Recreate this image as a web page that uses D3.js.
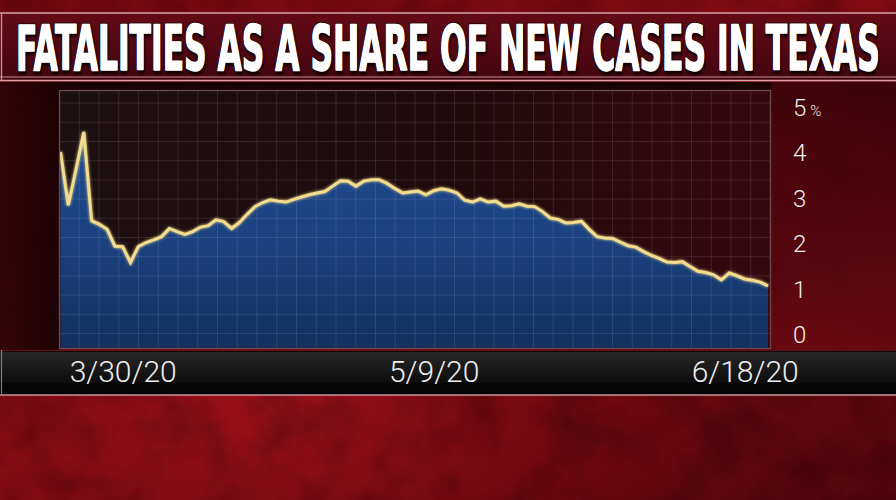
<!DOCTYPE html>
<html><head><meta charset="utf-8">
<script src="https://cdn.jsdelivr.net/npm/d3@7"></script>
<style>html,body{margin:0;padding:0;background:#000;overflow:hidden}</style>
</head><body>
<svg id="c" width="896" height="500"></svg>
<script>
// ---------- data ----------
const titleText = "FATALITIES AS A SHARE OF NEW CASES IN TEXAS";
const startDate = "2020-03-22";
const shareValues = [
  4.00, 2.83, 3.62, 4.44, 2.49, 2.41, 2.30, 1.93, 1.92, 1.57,
  1.92, 2.01, 2.07, 2.14, 2.32, 2.25, 2.19, 2.25, 2.35, 2.38,
  2.51, 2.47, 2.32, 2.45, 2.63, 2.80, 2.89, 2.95, 2.92, 2.90,
  2.96, 3.01, 3.06, 3.10, 3.13, 3.25, 3.37, 3.36, 3.25, 3.36,
  3.39, 3.39, 3.31, 3.20, 3.10, 3.12, 3.14, 3.06, 3.15, 3.19,
  3.16, 3.10, 2.94, 2.90, 2.97, 2.90, 2.92, 2.81, 2.82, 2.86,
  2.81, 2.80, 2.69, 2.55, 2.52, 2.44, 2.45, 2.48, 2.30, 2.14,
  2.11, 2.10, 2.02, 1.94, 1.91, 1.81, 1.73, 1.66, 1.58, 1.57,
  1.59, 1.48, 1.38, 1.35, 1.30, 1.19, 1.34, 1.28, 1.21, 1.18,
  1.14, 1.06
];
const yTickValues = [0, 1, 2, 3, 4, 5];
const xTickLabels = ["3/30/20", "5/9/20", "6/18/20"];

// ---------- setup ----------
const W = 896, H = 500;
const plot = {left: 59, right: 771, top: 90, bottom: 349};
const svg = d3.select("#c");
const defs = svg.append("defs");

const parseISO = d3.timeParse("%Y-%m-%d");
const parseTick = d3.timeParse("%m/%d/%y");
const t0 = parseISO(startDate);
const data = shareValues.map((v, i) => ({date: d3.timeDay.offset(t0, i), value: v}));

const x = d3.scaleTime()
  .domain([data[0].date, data[data.length - 1].date])
  .range([60.5, 768]);
const y = d3.scaleLinear().domain([0, 5]).range([334, 106.5]);

// ---------- gradients & filters ----------
function lin(id, x1, y1, x2, y2, stops) {
  const g = defs.append("linearGradient").attr("id", id)
    .attr("x1", x1).attr("y1", y1).attr("x2", x2).attr("y2", y2);
  stops.forEach(s => g.append("stop").attr("offset", s[0]).attr("stop-color", s[1]).attr("stop-opacity", s[2] == null ? 1 : s[2]));
}
function rad(id, cx, cy, r, stops) {
  const g = defs.append("radialGradient").attr("id", id)
    .attr("cx", cx).attr("cy", cy).attr("r", r);
  stops.forEach(s => g.append("stop").attr("offset", s[0]).attr("stop-color", s[1]).attr("stop-opacity", s[2] == null ? 1 : s[2]));
}
lin("bgRed", 0, 0, 1, 1, [[0, "#760910"], [0.5, "#840b13"], [1, "#52050b"]]);
rad("bgGlow", "30%", "82%", "55%", [[0, "#a3121b", 0.8], [1, "#6a070d", 0]]);
lin("titleFill", 0, 0, 0, 1, [[0, "#650b15"], [1, "#43050f"]]);
lin("leftPanel", 0, 0, 1, 0, [[0, "#2c0407"], [1, "#160204"]]);
lin("rightPanel", 0, 0, 0, 1, [[0, "#300306"], [0.6, "#4e060c"], [1, "#6a0910"]]);
lin("plotBg", 0, 0, 1, 0, [[0, "#1c1012"], [0.55, "#20090c"], [1, "#360910"]]);
lin("areaFill", 0, 0, 0, 1, [[0, "#1f4c90"], [0.5, "#1a427f"], [1, "#12305f"]]);
lin("stripFill", 0, 0, 0, 1, [[0, "#262626"], [0.7, "#151515"], [1, "#0c0c0c"]]);

const noise = defs.append("filter").attr("id", "noise")
  .attr("x", 0).attr("y", 0).attr("width", "100%").attr("height", "100%");
noise.append("feTurbulence").attr("type", "fractalNoise").attr("baseFrequency", "0.02")
  .attr("numOctaves", 4).attr("seed", 7);
noise.append("feColorMatrix").attr("type", "matrix")
  .attr("values", "0 0 0 0 0  0 0 0 0 0  0 0 0 0 0  2.0 0 0 0 -0.8");

const glow = defs.append("filter").attr("id", "glow")
  .attr("x", "-5%").attr("y", "-5%").attr("width", "110%").attr("height", "110%");
glow.append("feGaussianBlur").attr("stdDeviation", 1.6).attr("result", "b");
const gm = glow.append("feMerge");
gm.append("feMergeNode").attr("in", "b");
gm.append("feMergeNode").attr("in", "SourceGraphic");

const tshadow = defs.append("filter").attr("id", "tshadow")
  .attr("x", "-5%").attr("y", "-20%").attr("width", "110%").attr("height", "140%");
tshadow.append("feDropShadow").attr("dx", 1.5).attr("dy", 2).attr("stdDeviation", 1.5)
  .attr("flood-color", "#000").attr("flood-opacity", 0.9);

defs.append("clipPath").attr("id", "plotClip").append("rect")
  .attr("x", plot.left).attr("y", plot.top)
  .attr("width", plot.right - plot.left).attr("height", plot.bottom - plot.top);

// ---------- background ----------
svg.append("rect").attr("width", W).attr("height", H).attr("fill", "url(#bgRed)");
svg.append("rect").attr("width", W).attr("height", H).attr("fill", "url(#bgGlow)");
svg.append("rect").attr("width", W).attr("height", H).attr("fill", "#000")
  .attr("filter", "url(#noise)").attr("opacity", 0.28);

// chart panel (between title and date strip)
svg.append("rect").attr("x", 0).attr("y", 82).attr("width", plot.left).attr("height", 268)
  .attr("fill", "url(#leftPanel)").attr("opacity", 0.92);
svg.append("rect").attr("x", plot.right).attr("y", 82).attr("width", W - plot.right).attr("height", 268)
  .attr("fill", "url(#rightPanel)").attr("opacity", 0.8);
svg.append("rect").attr("x", plot.left).attr("y", 82).attr("width", plot.right - plot.left).attr("height", 8)
  .attr("fill", "#1a0305");

// ---------- title box ----------
svg.append("rect").attr("x", 0).attr("y", 12).attr("width", W).attr("height", 68)
  .attr("fill", "url(#titleFill)");
svg.append("line").attr("x1", 0).attr("x2", W).attr("y1", 13).attr("y2", 13)
  .attr("stroke", "#d9a3aa").attr("stroke-width", 1.6);
svg.append("line").attr("x1", 0).attr("x2", W).attr("y1", 77).attr("y2", 77)
  .attr("stroke", "#c58d95").attr("stroke-width", 1.2);
svg.append("line").attr("x1", 0).attr("x2", W).attr("y1", 80.5).attr("y2", 80.5)
  .attr("stroke", "#d9a3aa").attr("stroke-width", 1.6);
svg.append("line").attr("x1", 1.5).attr("x2", 1.5).attr("y1", 13).attr("y2", 80.5)
  .attr("stroke", "#c58d95").attr("stroke-width", 1.4);

const titleFont = "'Liberation Sans Narrow','DejaVu Sans Condensed','Roboto Condensed',sans-serif";
const titleG = svg.append("g");
const tShadow = titleG.append("text")
  .attr("x", 0).attr("y", 0)
  .attr("font-family", titleFont)
  .attr("font-weight", "bold").attr("font-size", 62)
  .attr("fill", "#ffffff").attr("stroke", "#1a0000").attr("stroke-width", 3)
  .attr("stroke-linejoin", "round")
  .attr("paint-order", "stroke")
  .attr("filter", "url(#tshadow)")
  .text(titleText);
titleG.append("text")
  .attr("x", 0).attr("y", 0)
  .attr("font-family", titleFont)
  .attr("font-weight", "bold").attr("font-size", 62)
  .attr("fill", "#ffffff").attr("stroke", "#ffffff").attr("stroke-width", 1.4)
  .attr("stroke-linejoin", "round")
  .text(titleText);
const natW = tShadow.node().getComputedTextLength() || 866;
const sx = 864 / natW;
titleG.attr("transform", `translate(16,70) scale(${sx},1)`);

// ---------- plot area ----------
const pg = svg.append("g");
pg.append("rect").attr("x", plot.left).attr("y", plot.top)
  .attr("width", plot.right - plot.left).attr("height", plot.bottom - plot.top)
  .attr("fill", "url(#plotBg)");

const area = d3.area().x(d => x(d.date)).y0(plot.bottom).y1(d => y(d.value));
const line = d3.line().x(d => x(d.date)).y(d => y(d.value));

const clipped = pg.append("g").attr("clip-path", "url(#plotClip)");
clipped.append("path").datum(data).attr("d", area).attr("fill", "url(#areaFill)");

// grid drawn over the fill and background inside the plot
const gridG = clipped.append("g").attr("stroke", "#ffe6ea").attr("stroke-opacity", 0.11).attr("stroke-width", 1);
d3.range(plot.left + 0.5, plot.right, 19.75).forEach(gx =>
  gridG.append("line").attr("x1", gx).attr("x2", gx).attr("y1", plot.top).attr("y2", plot.bottom));
d3.range(333.5, plot.top, -19.2).forEach(gy =>
  gridG.append("line").attr("x1", plot.left).attr("x2", plot.right).attr("y1", gy).attr("y2", gy));

clipped.append("path").datum(data).attr("d", line)
  .attr("fill", "none").attr("stroke", "#f3dc8e").attr("stroke-width", 3)
  .attr("stroke-linejoin", "miter").attr("filter", "url(#glow)");

// plot border
pg.append("rect").attr("x", plot.left + 0.5).attr("y", plot.top + 0.5)
  .attr("width", plot.right - plot.left - 1).attr("height", plot.bottom - plot.top - 1)
  .attr("fill", "none").attr("stroke", "#6d4a50").attr("stroke-width", 1.3);

// ---------- y axis (right) ----------
const yAxis = d3.axisRight(y).tickValues(yTickValues).tickSize(0).tickPadding(0)
  .tickFormat(d => d);
const yg = svg.append("g").attr("transform", "translate(793,0)").call(yAxis);
yg.select(".domain").remove();
yg.selectAll("text")
  .attr("font-family", "Roboto, 'Liberation Sans', sans-serif")
  .attr("font-weight", 300).attr("font-size", 24).attr("fill", "#eeeeee")
  .attr("text-anchor", "start").attr("dy", "0.36em");
yg.selectAll(".tick").filter(d => d === 5).select("text")
  .append("tspan").attr("dx", 4).attr("font-size", 15).text("%");

// ---------- date strip & x axis ----------
svg.append("rect").attr("x", 0).attr("y", 350).attr("width", W).attr("height", 45).attr("fill", "#050505");
svg.append("rect").attr("x", 0).attr("y", 352).attr("width", W).attr("height", 31).attr("fill", "url(#stripFill)");
svg.append("line").attr("x1", 0).attr("x2", W).attr("y1", 350.5).attr("y2", 350.5)
  .attr("stroke", "#5a1015").attr("stroke-width", 1.5);
svg.append("line").attr("x1", 0).attr("x2", W).attr("y1", 395).attr("y2", 395)
  .attr("stroke", "#c9969c").attr("stroke-width", 1.6);
svg.append("line").attr("x1", 1.5).attr("x2", 1.5).attr("y1", 350).attr("y2", 395)
  .attr("stroke", "#9a7075").attr("stroke-width", 1.2);

const xAxis = d3.axisBottom(x).tickValues(xTickLabels.map(parseTick))
  .tickSize(0).tickPadding(0).tickFormat(d3.timeFormat("%-m/%-d/%y"));
const xg = svg.append("g").call(xAxis);
xg.select(".domain").remove();
xg.selectAll("text")
  .attr("y", 382).attr("dy", 0)
  .attr("font-family", "Roboto, 'Liberation Sans', sans-serif")
  .attr("font-weight", 300).attr("font-size", 30).attr("fill", "#eeeeee");
</script>
</body></html>
